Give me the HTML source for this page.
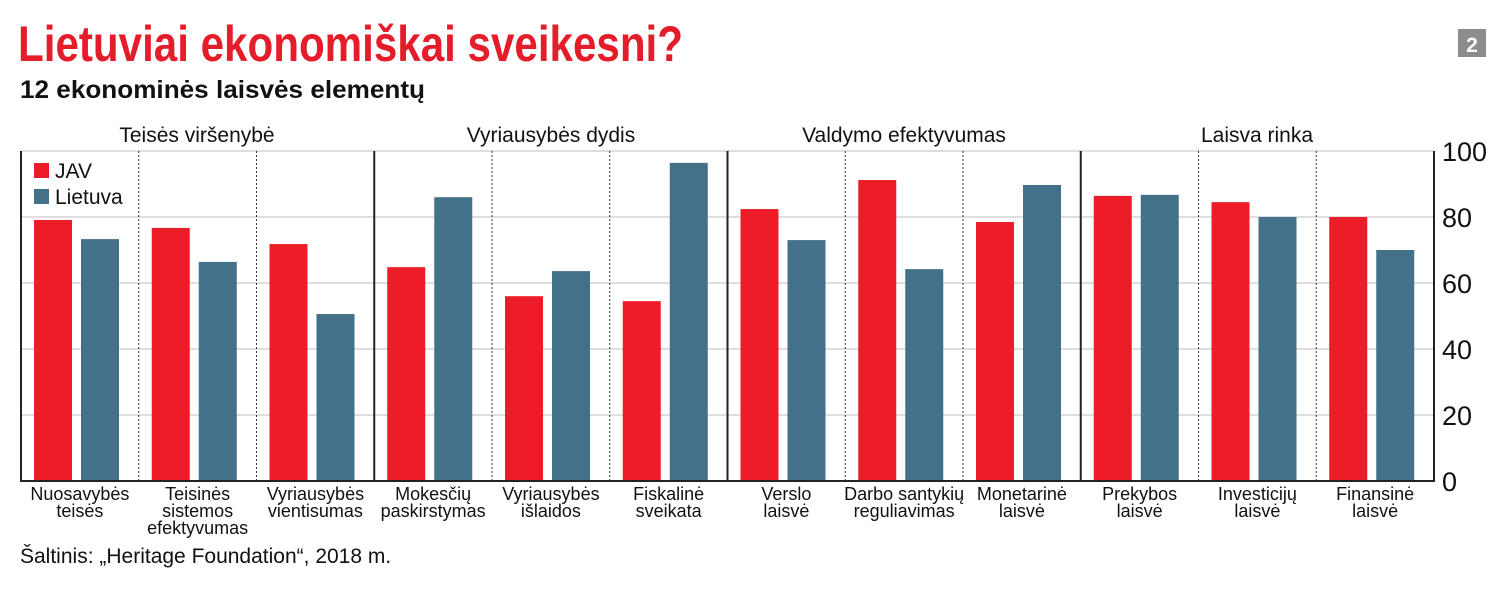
<!DOCTYPE html><html><head><meta charset="utf-8"><style>
body{margin:0;background:#fff;width:1500px;height:591px;overflow:hidden}
svg{font-family:"Liberation Sans Narrow","Liberation Sans",sans-serif}
</style></head><body>
<svg width="1500" height="591" xmlns="http://www.w3.org/2000/svg">
<text x="18" y="61" font-size="50" font-weight="bold" fill="#e51d2a" textLength="665" lengthAdjust="spacingAndGlyphs">Lietuviai ekonomiškai sveikesni?</text>
<text x="20" y="98" font-size="25" font-weight="bold" fill="#111" textLength="405" lengthAdjust="spacingAndGlyphs">12 ekonominės laisvės elementų</text>
<rect x="1458" y="29" width="28" height="28" fill="#8c8c8c"/>
<text x="1472" y="52" font-size="21" font-weight="bold" fill="#fff" text-anchor="middle">2</text>
<g font-size="21" fill="#111" text-anchor="middle">
<text x="197" y="142">Teisės viršenybė</text>
<text x="551" y="142">Vyriausybės dydis</text>
<text x="904" y="142">Valdymo efektyvumas</text>
<text x="1257" y="142">Laisva rinka</text>
</g>
<g stroke="#d4d4d4" stroke-width="1.5">
<line x1="21" x2="1434" y1="151" y2="151"/><line x1="21" x2="1434" y1="217" y2="217"/><line x1="21" x2="1434" y1="283" y2="283"/><line x1="21" x2="1434" y1="349" y2="349"/><line x1="21" x2="1434" y1="415" y2="415"/>
</g>
<g id="bars"></g>
<g stroke="#333" stroke-width="1" stroke-dasharray="2,2">
<line x1="138.75" x2="138.75" y1="151" y2="481"/><line x1="256.5" x2="256.5" y1="151" y2="481"/>
<line x1="492" x2="492" y1="151" y2="481"/><line x1="609.75" x2="609.75" y1="151" y2="481"/>
<line x1="845.25" x2="845.25" y1="151" y2="481"/><line x1="963" x2="963" y1="151" y2="481"/>
<line x1="1198.5" x2="1198.5" y1="151" y2="481"/><line x1="1316.25" x2="1316.25" y1="151" y2="481"/>
</g>
<g stroke="#222" stroke-width="2">
<line x1="21" x2="21" y1="151" y2="482"/><line x1="374.25" x2="374.25" y1="151" y2="482"/><line x1="727.5" x2="727.5" y1="151" y2="482"/><line x1="1080.75" x2="1080.75" y1="151" y2="482"/><line x1="1434" x2="1434" y1="151" y2="482"/>
<line x1="20" x2="1435" y1="481" y2="481"/>
</g>
<g font-size="27" fill="#111">
<text x="1442" y="161">100</text><text x="1442" y="227">80</text><text x="1442" y="293">60</text><text x="1442" y="359">40</text><text x="1442" y="425">20</text><text x="1442" y="491">0</text>
</g>
<rect x="34" y="163" width="15" height="15" fill="#ec1c28"/><text x="55" y="178" font-size="21" fill="#111">JAV</text>
<rect x="34" y="189" width="15" height="15" fill="#43718a"/><text x="55" y="204" font-size="21" fill="#111">Lietuva</text>
<g font-size="18" fill="#111" text-anchor="middle" id="labels"></g>
<text x="20" y="563" font-size="21" fill="#111">Šaltinis: „Heritage Foundation“, 2018 m.</text>
<script>
var d=[[79.1,73.3],[76.7,66.4],[71.8,50.6],[64.8,86],[56,63.6],[54.5,96.4],[82.4,73],[91.2,64.2],[78.5,89.7],[86.4,86.7],[84.5,80],[80,70]];
var L=[["Nuosavybės","teisės"],["Teisinės","sistemos","efektyvumas"],["Vyriausybės","vientisumas"],["Mokesčių","paskirstymas"],["Vyriausybės","išlaidos"],["Fiskalinė","sveikata"],["Verslo","laisvė"],["Darbo santykių","reguliavimas"],["Monetarinė","laisvė"],["Prekybos","laisvė"],["Investicijų","laisvė"],["Finansinė","laisvė"]];
var ns="http://www.w3.org/2000/svg",b=document.getElementById("bars"),lg=document.getElementById("labels");
d.forEach(function(v,i){var x0=21+i*117.75;
[[13,v[0],"#ec1c28"],[60,v[1],"#43718a"]].forEach(function(p){var r=document.createElementNS(ns,"rect");var h=p[1]*3.3;r.setAttribute("x",x0+p[0]);r.setAttribute("width",38);r.setAttribute("y",481-h);r.setAttribute("height",h);r.setAttribute("fill",p[2]);b.appendChild(r);});
L[i].forEach(function(s,j){var t=document.createElementNS(ns,"text");t.setAttribute("x",x0+58.9);t.setAttribute("y",500+j*17);t.textContent=s;lg.appendChild(t);});});
</script>
</svg></body></html>
